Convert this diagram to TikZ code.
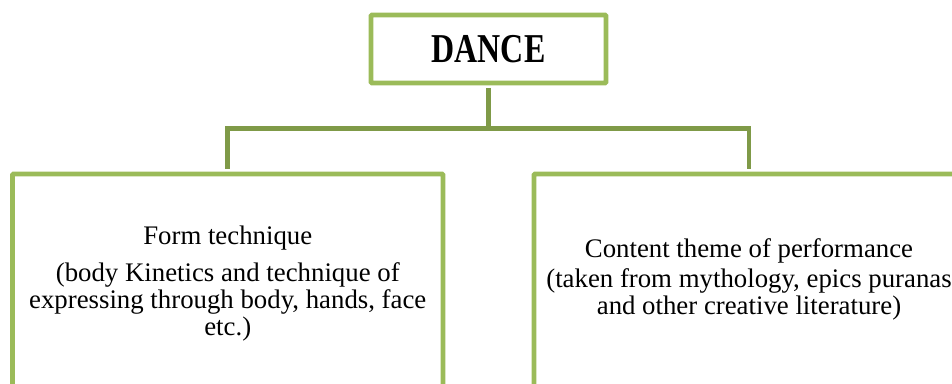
\documentclass[tikz,border=0pt]{standalone}
\usepackage{fontspec}
\setmainfont{Liberation Serif}
\newfontfamily\titulo[FakeStretch=0.78]{Liberation Serif}
\definecolor{verde}{RGB}{155,187,89}
\definecolor{verdeesc}{RGB}{127,154,72}

\begin{document}
\begin{tikzpicture}[x=1pt, y=-1pt, %952x383
            caixa/.style={draw=verde, line width=4.8pt, rounded corners=1pt, inner sep=0pt},
            liga/.style={draw=verdeesc, line width=4.6pt},
            texto/.style={align=center, inner sep=0pt, anchor=north, font=\fontsize{26.8}{27}\selectfont}]
            \useasboundingbox (0,0) rectangle (952,383);
            \clip (0,0) rectangle (952,383);

            \node[caixa, minimum width=235pt, minimum height=68pt, font=\titulo\bfseries\fontsize{41}{41}\selectfont] (dance) at (488.5,49) {DANCE};
            \node[caixa, minimum width=430.5pt, minimum height=218pt] (forma) at (227.75,283) {};
            \node[caixa, minimum width=430pt, minimum height=218pt] (conteudo) at (749,283) {};

            \coordinate (meio) at (488.5,128.5);
            \draw[liga, shorten <=2.4pt] (dance.south) -- (meio);
            \draw[liga, shorten >=2.4pt] (meio) -| (forma.north);
            \draw[liga, shorten >=2.4pt] (meio) -| (conteudo.north);

            \node[texto] (formatxt) at (227.75,225.7) {Form technique\\[10pt](body Kinetics and technique of\\expressing through body, hands, face\\etc.)};
            \node[texto] (conteudotxt) at (749,238.7) {Content theme of performance\\[3pt](taken from mythology, epics puranas\\and other creative literature)};
        \end{tikzpicture}
\end{document}
